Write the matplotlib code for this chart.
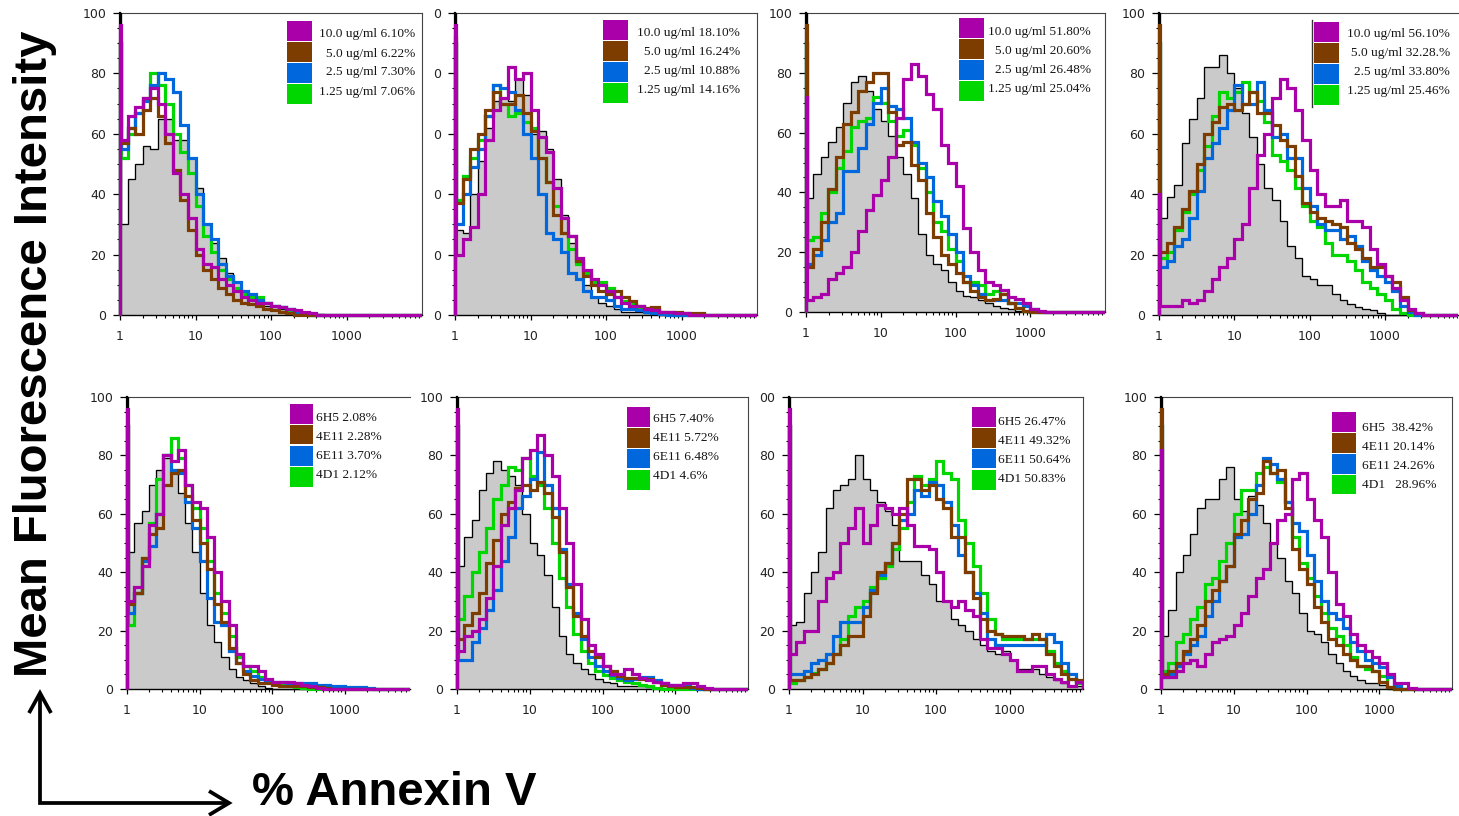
import numpy as np
import matplotlib
matplotlib.use("Agg")
import matplotlib.pyplot as plt
import matplotlib.transforms as mtransforms
from matplotlib.lines import Line2D
from matplotlib.patches import Rectangle
from matplotlib.ticker import FixedLocator, FixedFormatter, LogLocator, NullFormatter

# ---------------------------------------------------------------------------
# Histogram data: first value is the narrow first channel, then 40 bins of
# 0.1 decade each (1 .. 10^4).  Series order per panel:
# control (grey), magenta, brown, blue, green
# ---------------------------------------------------------------------------
ctrl_1 = [100, 30, 45, 50, 56, 55, 65, 65, 58, 58, 52, 42, 30, 24, 19, 14, 11, 8, 6, 4, 3,
          2, 2, 1.5, 1, 1, 0.5, 0.3, 0, 0, 0, 0, 0, 0, 0, 0, 0, 0, 0, 0, 0]
mag_1 = [96, 58, 66, 69, 72, 75, 70, 60, 47, 40, 32, 22, 17, 16, 12, 10, 8, 6, 5, 4, 4,
         3, 2.5, 2, 1.5, 1, 0.5, 0, 0, 0, 0, 0, 0, 0, 0, 0, 0, 0, 0, 0, 0]
brn_1 = [90, 57, 62, 60, 68, 72, 66, 57, 48, 38, 28, 20, 15, 12, 9, 7, 5, 4, 3.5, 3, 2,
         1.5, 1, 0.5, 0, 0, 0, 0, 0, 0, 0, 0, 0, 0, 0, 0, 0, 0, 0, 0, 0]
blu_1 = [90, 55, 62, 67, 71, 76, 80, 78, 74, 63, 52, 40, 30, 25, 17, 13, 11, 8, 7, 5, 4,
         3, 2.5, 2, 1, 0.5, 0, 0, 0, 0, 0, 0, 0, 0, 0, 0, 0, 0, 0, 0, 0]
grn_1 = [90, 52, 60, 67, 72, 80, 76, 70, 60, 54, 47, 36, 26, 21, 15, 12, 9, 7, 6, 6, 4,
         3, 2.5, 1.5, 1, 0.5, 0, 0, 0, 0, 0, 0, 0, 0, 0, 0, 0, 0, 0, 0, 0]

ctrl_2 = [100, 28, 27, 40, 51, 62, 71, 72, 71, 78, 73, 60, 61, 55, 45, 33, 24, 18, 10, 6, 4,
          3, 2, 1, 1, 1, 0.5, 0.3, 0, 0, 0, 0, 0, 0, 0, 0, 0, 0, 0, 0, 0]
mag_2 = [96, 20, 25, 29, 40, 58, 68, 72, 82, 78, 80, 68, 59, 54, 42, 32, 26, 19, 15, 12, 10,
         8, 6, 4, 3, 3, 2, 1.5, 1, 1, 0.5, 0.5, 0, 0, 0, 0, 0, 0, 0, 0, 0]
brn_2 = [92, 37, 45, 55, 60, 68, 74, 70, 70, 73, 67, 61, 52, 44, 33, 27, 26, 18, 13, 10, 8,
         7, 8, 6, 4.5, 3, 2.2, 2.5, 1, 1, 1, 0.8, 0.8, 0.5, 0, 0, 0, 0, 0, 0, 0]
blu_2 = [90, 30, 40, 49, 55, 66, 76, 75, 74, 68, 60, 52, 40, 27, 25, 21, 14, 12, 8, 6, 6,
         5, 3, 2, 2, 1.5, 1, 0.5, 0.3, 0, 0, 0, 0, 0, 0, 0, 0, 0, 0, 0, 0]
grn_2 = [90, 38, 46, 52, 58, 66, 76, 70, 66, 67, 64, 62, 52, 44, 36, 27, 22, 17, 14, 11, 11,
         9, 6, 4.5, 3.5, 2.5, 2, 1.5, 1, 0.5, 0, 0, 0, 0, 0, 0, 0, 0, 0, 0, 0]

ctrl_3 = [100, 38, 46, 52, 57, 62, 70, 77, 79, 74, 68, 64, 59, 52, 46, 38, 26, 19, 16, 14, 10,
          7, 5.5, 5, 4, 3, 2, 1.3, 1, 0.5, 0.3, 0, 0, 0, 0, 0, 0, 0, 0, 0, 0]
mag_3 = [72, 4, 5, 6, 11, 13, 15, 20, 27, 34, 39, 44, 52, 65, 78, 83, 79, 73, 68, 56, 50,
         42, 28, 20, 14, 10, 9, 7.5, 5, 4.5, 3, 1, 0.3, 0, 0, 0, 0, 0, 0, 0, 0]
brn_3 = [96, 15, 21, 30, 41, 52, 63, 67, 74, 77, 80, 80, 67, 56, 57, 49, 44, 33, 25, 19, 16,
         13, 10, 7, 5, 4, 4.5, 6, 3, 1.3, 0.5, 0, 0, 0, 0, 0, 0, 0, 0, 0, 0]
blu_3 = [90, 16, 19, 24, 30, 33, 47, 47, 55, 63, 70, 75, 69, 68, 65, 57, 50, 45, 37, 32, 26,
         20, 12, 9, 6, 4, 4, 4, 3, 3, 2, 1, 0, 0, 0, 0, 0, 0, 0, 0, 0]
grn_3 = [90, 24, 25, 33, 40, 48, 54, 62, 64, 65, 72, 70, 64, 59, 61, 56, 48, 40, 30, 27, 21,
         17, 10, 10, 9, 6, 7, 6, 3, 1.5, 0.5, 0, 0, 0, 0, 0, 0, 0, 0, 0, 0]

ctrl_4 = [100, 32, 39, 43, 57, 65, 72, 82, 82, 86, 80, 75, 67, 59, 50, 42, 38, 31, 23, 19, 13,
          12, 10, 10, 7, 5, 3.5, 2.5, 2, 1.5, 0.5, 0, 0, 0, 0, 0, 0, 0, 0, 0, 0]
mag_4 = [40, 3, 3, 3, 5, 4, 5, 8, 12, 16, 19, 25, 30, 42, 53, 60, 72, 78, 75, 68, 58,
         48, 40, 36, 36, 38, 31, 31, 29, 22, 17, 13, 9, 5, 2, 0.5, 0, 0, 0, 0, 0]
brn_4 = [96, 21, 24, 29, 35, 41, 50, 60, 64, 69, 70, 68, 70, 74, 67, 67, 63, 58, 56, 46, 37,
         34, 32, 31, 30, 29, 24, 22, 19, 16, 16, 13, 11, 6, 1.5, 0.5, 0, 0, 0, 0, 0]
blu_4 = [90, 16, 18, 23, 25, 32, 41, 52, 57, 62, 68, 76, 70, 70, 77, 68, 59, 60, 52, 52, 42,
         36, 30, 28, 28, 25, 26, 23, 18, 15, 13, 11, 8, 3, 1, 0, 0, 0, 0, 0, 0]
grn_4 = [90, 19, 21, 28, 34, 40, 48, 56, 66, 74, 72, 74, 77, 74, 71, 64, 53, 51, 48, 42, 36,
         31, 29, 24, 20, 20, 18, 15, 11, 9, 7, 5, 2, 0.5, 0, 0, 0, 0, 0, 0, 0]

ctrl_5 = [100, 47, 57, 61, 70, 75, 79, 74, 67, 57, 47, 33, 22, 16, 11, 7, 4, 3, 2, 1, 0.5,
          0, 0, 0, 0, 0, 0, 0, 0, 0, 0, 0, 0, 0, 0, 0, 0, 0, 0, 0, 0]
mag_5 = [96, 30, 35, 42, 56, 60, 80, 78, 82, 70, 64, 62, 52, 40, 30, 22, 12, 8, 8, 6, 3.5,
         2.5, 2.5, 2.5, 2, 1.5, 1, 0.5, 0, 0, 0, 0, 0, 0, 0, 0, 0, 0, 0, 0, 0]
brn_5 = [90, 29, 33, 45, 53, 55, 70, 74, 75, 66, 58, 50, 41, 29, 23, 14, 9, 5, 3, 2, 2,
         1.5, 1, 1, 1, 1, 0.8, 0.8, 0.5, 0, 0, 0, 0, 0, 0, 0, 0, 0, 0, 0, 0]
blu_5 = [90, 26, 33, 44, 49, 60, 80, 75, 74, 64, 55, 44, 31, 23, 22, 13, 9, 6, 4.5, 3.5, 3,
         2.5, 2.5, 2, 2, 2, 2, 1.5, 1.5, 1, 1, 0.8, 0.8, 0.8, 0.5, 0, 0, 0, 0, 0, 0]
grn_5 = [90, 22, 33, 45, 57, 72, 80, 86, 79, 70, 62, 55, 44, 33, 26, 18, 11, 8, 6, 4, 2.5,
         2, 1.5, 1, 0.8, 0.3, 0, 0, 0, 0, 0, 0, 0, 0, 0, 0, 0, 0, 0, 0, 0]

ctrl_6 = [100, 42, 52, 58, 68, 74, 78, 75, 73, 70, 60, 50, 46, 39, 28, 18, 12, 9, 7, 5, 3.5,
          2.5, 2, 1, 1, 1, 1, 0.8, 0.5, 0.3, 0, 0, 0, 0, 0, 0, 0, 0, 0, 0, 0]
mag_6 = [96, 13, 18, 20, 24, 31, 42, 56, 62, 68, 79, 82, 87, 80, 73, 62, 50, 36, 24, 15, 12,
         8, 5, 5, 7, 5, 3.7, 3, 2.5, 2, 1.5, 1.4, 2, 2, 1, 0.3, 0, 0, 0, 0, 0]
brn_6 = [90, 17, 22, 26, 33, 43, 51, 60, 64, 69, 70, 68, 71, 67, 59, 47, 35, 25, 18, 13, 11,
         8, 6, 4.5, 3.7, 3.7, 3.5, 3.5, 2.5, 1.5, 1, 0.8, 0.8, 0.8, 0.3, 0, 0, 0, 0, 0, 0]
blu_6 = [90, 10, 10, 16, 21, 27, 34, 44, 52, 62, 66, 72, 81, 70, 62, 48, 36, 26, 17, 11, 8,
         6, 4.8, 3.7, 3, 3.5, 4, 4, 3, 2, 1.5, 1.4, 1, 0.5, 0, 0, 0, 0, 0, 0, 0]
grn_6 = [90, 24, 32, 40, 47, 55, 65, 70, 76, 75, 79, 73, 70, 62, 50, 38, 28, 19, 13, 9, 6,
         4.8, 3.7, 3, 2.5, 2, 1.5, 1, 0.5, 0, 0, 0, 0, 0, 0, 0, 0, 0, 0, 0, 0]

ctrl_7 = [100, 22, 23, 33, 40, 47, 62, 68, 70, 72, 80, 72, 68, 64, 61, 56, 44, 44, 44, 39, 36,
          30, 30, 24, 22, 20, 17, 15, 13, 12, 13, 10, 7, 7, 7, 5, 4, 3, 2, 1, 1]
mag_7 = [96, 12, 16, 20, 20, 30, 38, 40, 50, 55, 62, 50, 56, 63, 62, 60, 62, 56, 49, 49, 48,
         40, 30, 28, 30, 27, 25, 17, 14, 14, 12, 10, 6, 6, 8, 8, 5, 3.5, 2.5, 1, 2.5]
brn_7 = [90, 3, 3, 4, 5, 7, 9, 12, 15, 18, 18, 25, 33, 40, 43, 50, 60, 72, 72, 68, 70,
         65, 62, 52, 52, 40, 31, 24, 20, 19, 18, 18, 18, 17, 19, 17, 12, 8, 5, 3.5, 3]
blu_7 = [90, 5, 5, 6, 9, 10, 12, 18, 23, 23, 23, 28, 34, 39, 43, 50, 58, 60, 68, 66, 71,
         70, 64, 56, 46, 40, 33, 26, 17, 15, 15, 15, 15, 15, 15, 15, 19, 16, 9, 5, 2.5]
grn_7 = [90, 2, 3, 4, 5.5, 7, 9, 12, 17, 25, 28, 30, 35, 38, 42, 48, 55, 64, 73, 70, 72,
         78, 74, 72, 58, 50, 42, 33, 24, 19, 17, 17, 17, 17, 17, 17, 13, 9, 6, 3.5, 2]

ctrl_8 = [100, 18, 27, 40, 46, 53, 62, 65, 65, 72, 76, 65, 61, 66, 63, 57, 50, 45, 37, 33, 26,
          20, 19, 16, 12, 9, 6, 4.5, 3, 2, 2, 1.5, 0, 0, 0, 0, 0, 0, 0, 0, 0]
mag_8 = [82, 4, 4, 6, 9, 10, 8, 12, 16, 17, 18, 22, 26, 32, 38, 41, 50, 58, 60, 72, 74,
         65, 58, 52, 40, 29, 25, 19, 15, 13, 11, 9, 5, 2, 2, 0.5, 0, 0, 0, 0, 0]
brn_8 = [96, 5, 6, 9, 13, 17, 22, 30, 34, 37, 42, 53, 58, 65, 67, 78, 74, 75, 62, 48, 41,
         36, 28, 23, 17, 15, 12, 10, 8, 8, 6, 2.5, 0.8, 0, 0, 0, 0, 0, 0, 0, 0]
blu_8 = [90, 4, 5, 8, 12, 15, 18, 25, 30, 37, 42, 52, 53, 60, 70, 79, 77, 72, 64, 57, 54,
         46, 37, 30, 26, 24, 21, 16, 13, 10, 9, 7.5, 4, 1, 0, 0, 0, 0, 0, 0, 0]
grn_8 = [90, 6, 9, 16, 19, 24, 28, 36, 38, 44, 50, 60, 68, 68, 74, 76, 74, 71, 64, 52, 43,
         38, 32, 26, 21, 18, 15, 11, 8, 7, 6, 4.5, 0.8, 0, 0, 0, 0, 0, 0, 0, 0]

# Legend texts
conc_labels_1 = ["10.0 ug/ml 6.10%", "5.0 ug/ml 6.22%", "2.5 ug/ml 7.30%", "1.25 ug/ml 7.06%"]
conc_labels_2 = ["10.0 ug/ml 18.10%", "5.0 ug/ml 16.24%", "2.5 ug/ml 10.88%", "1.25 ug/ml 14.16%"]
conc_labels_3 = ["10.0 ug/ml 51.80%", "5.0 ug/ml 20.60%", "2.5 ug/ml 26.48%", "1.25 ug/ml 25.04%"]
conc_labels_4 = ["10.0 ug/ml 56.10%", "5.0 ug/ml 32.28.%", "2.5 ug/ml 33.80%", "1.25 ug/ml 25.46%"]
clone_labels_5 = ["6H5 2.08%", "4E11 2.28%", "6E11 3.70%", "4D1 2.12%"]
clone_labels_6 = ["6H5 7.40%", "4E11 5.72%", "6E11 6.48%", "4D1 4.6%"]
clone_labels_7 = ["6H5 26.47%", "4E11 49.32%", "6E11 50.64%", "4D1 50.83%"]
clone_labels_8 = ["6H5  38.42%", "4E11 20.14%", "6E11 24.26%", "4D1   28.96%"]

x_tick_values = [1, 10, 100, 1000]
x_tick_labels = ["1", "10", "100", "1000"]
y_tick_values = [0, 20, 40, 60, 80, 100]

# ---------------------------------------------------------------------------
W, H = 1459, 816
fig = plt.figure(figsize=(W / 100, H / 100), dpi=100)

MAG, BRN, BLU, GRN = "#aa00aa", "#7e3d00", "#0068dc", "#00d600"
FILL = "#cacaca"
SANS = "Liberation Sans"
TICKFONT = "DejaVu Sans"
SERIF = "Liberation Serif"

log_edges = np.concatenate([[0.0, 0.015], np.arange(1, 41) / 10.0])
edges = 10.0 ** log_edges


def fx(x):
    return x / W


def fy(y):
    return 1 - y / H


panels = [
    # data, box (left, right, top, bottom) in px, xmax exponent, y labels, legend
    dict(data=(ctrl_1, mag_1, brn_1, blu_1, grn_1), box=(120, 422, 13, 315), xmax=4.0,
         ylab=None, labels=conc_labels_1, sq=(287, 21, 25), txt=(415, 34.5, "right"),
         right=True),
    dict(data=(ctrl_2, mag_2, brn_2, blu_2, grn_2), box=(455, 757, 13, 315), xmax=4.0,
         ylab=["0"] * 6, labels=conc_labels_2, sq=(603, 20, 25), txt=(740, 33.3, "right"),
         right=True),
    dict(data=(ctrl_3, mag_3, brn_3, blu_3, grn_3), box=(806, 1105, 13, 312), xmax=4.0,
         ylab=None, labels=conc_labels_3, sq=(959, 18, 25), txt=(1091, 32.3, "right"),
         right=True),
    dict(data=(ctrl_4, mag_4, brn_4, blu_4, grn_4), box=(1159, 1458, 13, 315), xmax=3.97,
         ylab=None, labels=conc_labels_4, sq=(1314, 22, 25), txt=(1450, 34.3, "right"),
         right=False),
    dict(data=(ctrl_5, mag_5, brn_5, blu_5, grn_5), box=(127, 410, 397, 689), xmax=3.9,
         ylab=None, labels=clone_labels_5, sq=(290, 404, 23), txt=(316, 418, "left"),
         right=False),
    dict(data=(ctrl_6, mag_6, brn_6, blu_6, grn_6), box=(457, 748, 397, 689), xmax=4.0,
         ylab=None, labels=clone_labels_6, sq=(627, 407, 23), txt=(653, 419, "left"),
         right=True),
    dict(data=(ctrl_7, mag_7, brn_7, blu_7, grn_7), box=(789, 1083, 397, 689), xmax=4.0,
         ylab=["0", "20", "40", "60", "80", "00"], labels=clone_labels_7,
         sq=(972, 407, 24), txt=(998, 422, "left"), right=True),
    dict(data=(ctrl_8, mag_8, brn_8, blu_8, grn_8), box=(1161, 1452, 397, 689), xmax=4.0,
         ylab=None, labels=clone_labels_8, sq=(1332, 412, 24), txt=(1362, 428, "left"),
         right=True),
]

for p in panels:
    x0, x1, y0, y1 = p["box"]
    ax = fig.add_axes([fx(x0), fy(y1), (x1 - x0) / W, (y1 - y0) / H])
    ax.set_xscale("log")
    ax.set_xlim(1, 10 ** p["xmax"])
    ax.set_ylim(0, 100)
    ax.set_facecolor("white")

    clip = mtransforms.TransformedBbox(
        mtransforms.Bbox.from_extents(-0.012, -0.015, 1.0, 1.012), ax.transAxes)

    ctrl, mag, brn, blu, grn = p["data"]
    ax.stairs(ctrl, edges, fill=True, facecolor=FILL, edgecolor="none", lw=0, zorder=1)
    outline = ax.stairs(ctrl, edges, color="black", lw=0.95, zorder=2.6)
    outline.set_clip_path(None)
    outline.set_clip_box(clip)
    for vals, col in ((grn, GRN), (blu, BLU), (brn, BRN), (mag, MAG)):
        st = ax.stairs(vals, edges, color=col, lw=2.3, zorder=3)
        st.set_clip_path(None)
        st.set_clip_box(clip)

    # spines
    for side in ("top", "right"):
        ax.spines[side].set_linewidth(0.8)
        ax.spines[side].set_color("#444444")
    if not p["right"]:
        ax.spines["right"].set_visible(False)
    ax.spines["left"].set_linewidth(1.6)
    ax.spines["left"].set_color("black")
    ax.spines["bottom"].set_linewidth(1.0)
    ax.spines["bottom"].set_color("black")

    # ticks
    ax.xaxis.set_major_locator(FixedLocator(x_tick_values))
    ax.xaxis.set_major_formatter(FixedFormatter(x_tick_labels))
    ax.xaxis.set_minor_locator(LogLocator(base=10, subs=np.arange(2, 10), numticks=20))
    ax.xaxis.set_minor_formatter(NullFormatter())
    ax.yaxis.set_major_locator(FixedLocator(y_tick_values))
    ax.yaxis.set_minor_locator(FixedLocator(np.arange(0, 101, 5)))
    if p["ylab"] is not None:
        ax.yaxis.set_major_formatter(FixedFormatter(p["ylab"]))
    ax.tick_params(axis="x", which="major", length=3.5, width=0.9, pad=7.5,
                   labelsize=9, labelcolor="#222222")
    ax.tick_params(axis="x", which="minor", length=2.3, width=0.8)
    ax.tick_params(axis="y", which="major", length=5, width=0.9, pad=5,
                   labelsize=9, labelcolor="#222222")
    ax.tick_params(axis="y", which="minor", length=2.3, width=0.8)
    for lab in ax.get_xticklabels() + ax.get_yticklabels():
        lab.set_family(TICKFONT)

    # legend: coloured squares and labels
    sx, sy, sw = p["sq"]
    tx, ty, align = p["txt"]
    for i, (col, lab) in enumerate(zip((MAG, BRN, BLU, GRN), p["labels"])):
        fig.add_artist(Rectangle((fx(sx), fy(sy + 21 * i + 19.5)), sw / W, 19.5 / H,
                                 transform=fig.transFigure, facecolor=col,
                                 edgecolor="none"))
        fig.text(fx(tx), fy(ty + 19 * i), lab, ha=align, va="center",
                 fontsize=9.6, family=SERIF, color="#151515")

# divider line beside the fourth legend
fig.add_artist(Line2D([fx(1312), fx(1312)], [fy(20), fy(107)], transform=fig.transFigure,
                      color="#333333", lw=1.0))

# axis titles
fig.text(fx(35), fy(354), "Mean Fluorescence Intensity", rotation=90, ha="center",
         va="center", fontsize=34, fontweight="bold", family=SANS, color="black")
fig.text(fx(252), fy(815), "% Annexin V", ha="left", va="bottom",
         fontsize=34, fontweight="bold", family=SANS, color="black")

# L-shaped arrows
arrow_kw = dict(transform=fig.transFigure, color="black", lw=2.7,
                solid_joinstyle="miter", solid_capstyle="butt")
fig.add_artist(Line2D([fx(40), fx(40), fx(228)], [fy(694), fy(803), fy(803)], **arrow_kw))
fig.add_artist(Line2D([fx(29), fx(40), fx(51)], [fy(713), fy(693), fy(713)], **arrow_kw))
fig.add_artist(Line2D([fx(209), fx(229), fx(209)], [fy(791), fy(803), fy(815)], **arrow_kw))

fig.savefig("out.png", dpi=100, facecolor="white")
